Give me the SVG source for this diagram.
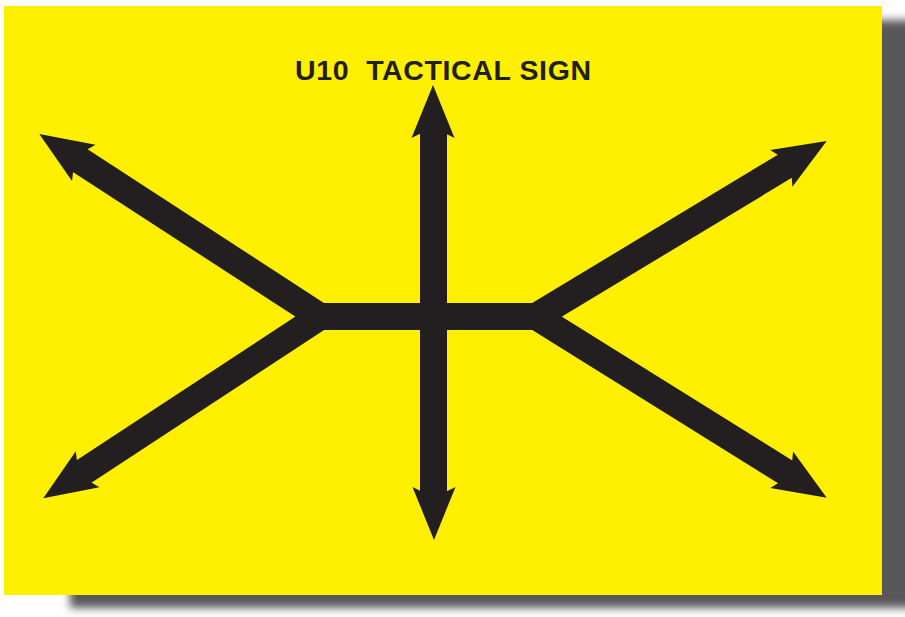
<svg xmlns="http://www.w3.org/2000/svg" width="905" height="617" viewBox="0 0 905 617">
<style>
.arm{fill:none;stroke:#231f20;stroke-width:27;stroke-linejoin:miter;stroke-miterlimit:6}
.head{fill:#231f20}
.title{font-family:"Liberation Sans",Arial,sans-serif;font-weight:bold;font-size:28.5px;fill:#231f20;white-space:pre}
</style>
<defs>
<filter id="blur" x="-5%" y="-5%" width="110%" height="110%"><feGaussianBlur stdDeviation="4"/></filter>
<path id="ah" d="M0,0 L-53,-21.5 L-49,-13.5 L-49,13.5 L-53,21.5 Z"/>
</defs>
<rect width="905" height="617" fill="#ffffff"/>
<g id="shadow"><rect x="70" y="20" width="860" height="588" fill="#58585a" filter="url(#blur)"/></g>
<g id="sign"><rect x="4" y="6" width="878" height="589" fill="#ffef00"/></g>
<g id="title"><text class="title" x="295" y="80" textLength="296" lengthAdjust="spacing" xml:space="preserve">U10  TACTICAL SIGN</text></g>
<g id="connectors">
<path class="arm" d="M77.9,159.1 L320,316.5 L81.7,473"/>
<path class="arm" d="M787.3,164.8 L536,316.5 L787.6,473.4"/>
<path class="arm" d="M320,316.5 L536,316.5"/>
<path class="arm" d="M433.5,131 L433.5,494"/>
<use href="#ah" class="head" transform="translate(39.3,134) rotate(213)"/>
<use href="#ah" class="head" transform="translate(43.3,498.3) rotate(146.7)"/>
<use href="#ah" class="head" transform="translate(826.7,141) rotate(-31.1)"/>
<use href="#ah" class="head" transform="translate(826.7,497.7) rotate(31.9)"/>
<use href="#ah" class="head" transform="translate(433,85) rotate(-90)"/>
<use href="#ah" class="head" transform="translate(434,540) rotate(90)"/>
</g>
</svg>
